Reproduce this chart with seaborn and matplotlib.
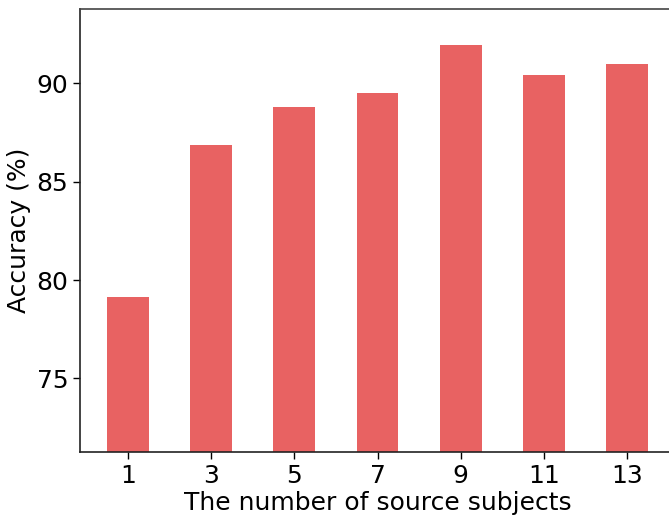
import pandas as pd
import numpy as np
import matplotlib
matplotlib.use("Agg")
import matplotlib.pyplot as plt
import seaborn as sns

subjects = ["1", "3", "5", "7", "9", "11", "13"]
accuracy = [79.15, 86.86, 88.80, 89.51, 91.95, 90.42, 90.98]

df = pd.DataFrame({"Subjects": subjects, "Accuracy": accuracy})

sns.set_style("ticks")
plt.rcParams["font.family"] = ["DejaVu Sans"]
plt.rcParams["text.color"] = "black"
plt.rcParams["axes.labelcolor"] = "black"
plt.rcParams["xtick.color"] = "black"
plt.rcParams["ytick.color"] = "black"

fig = plt.figure(figsize=(6.69, 5.18), dpi=100)
# axes runs past the right edge, like the cropped original
ax = fig.add_axes([80 / 669, (518 - 452) / 518, 595 / 669, 443 / 518])

sns.barplot(data=df, x="Subjects", y="Accuracy", color="#e86262",
            saturation=1, width=0.5, linewidth=0, ax=ax)
ax.set_xlim(-0.575, 6.575)
ax.set_ylim(71.26, 93.78)
ax.set_yticks([75, 80, 85, 90])
ax.tick_params(labelsize=18, length=5, width=1)
ax.set_xlabel("The number of source subjects", fontsize=18, labelpad=2)
ax.set_ylabel("Accuracy (%)", fontsize=18, labelpad=4)
for s in ax.spines.values():
    s.set_linewidth(1.2)
    s.set_color("#222222")
ax.spines["top"].set_color("#444444")

fig.savefig("out.png", dpi=100)
